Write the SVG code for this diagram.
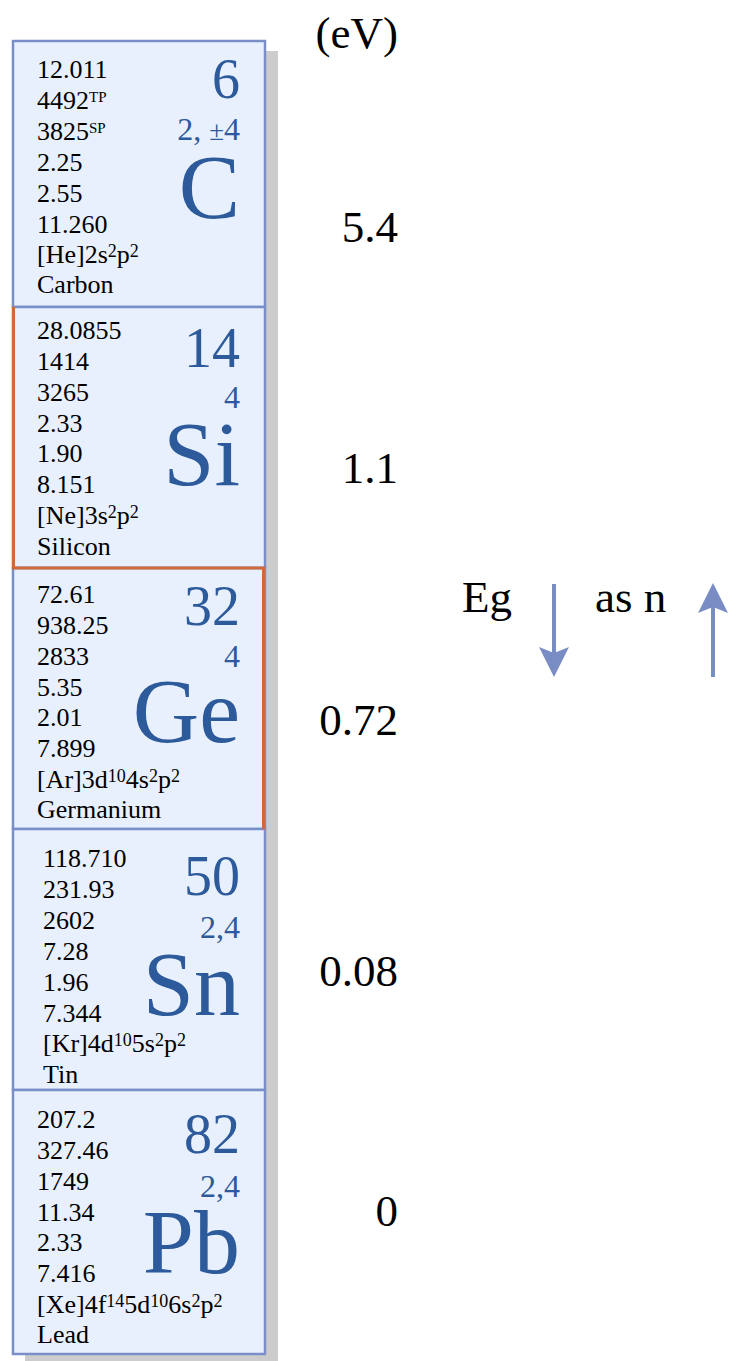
<svg xmlns="http://www.w3.org/2000/svg" width="729" height="1361" viewBox="0 0 729 1361">
<defs>
<style>
.k{font-family:"Liberation Serif","Times New Roman",serif;font-size:26px;fill:#000}
.num{font-family:"Liberation Serif",serif;font-size:56px;fill:#2c5a9a;text-anchor:end}
.val{font-family:"Liberation Serif",serif;font-size:32px;fill:#2c5a9a;text-anchor:end}
.sym{font-family:"Liberation Serif",serif;font-size:92px;fill:#2c5a9a;text-anchor:end}
.r{font-family:"Liberation Serif",serif;font-size:45px;fill:#000}
.cell{fill:#e8f0fd;stroke:#7a8fc8;stroke-width:2.5}
.arr{stroke:#7a8cc4;stroke-width:4;fill:none}
.s{font-size:18px}
</style>
<marker id="ah" viewBox="0 0 10 10" refX="2" refY="5" markerWidth="7.5" markerHeight="7.5" markerUnits="strokeWidth" orient="auto">
<path d="M0,0 L10,5 L0,10 L2,5 Z" fill="#7a8cc4"/>
</marker>
</defs>
<rect x="25" y="51" width="253" height="1320" fill="#cccccc"/>
<g id="C">
<rect class="cell" x="13" y="41" width="252" height="266"/>
<text class="k" x="37" y="78">12.011</text>
<text class="k" x="37" y="109">4492<tspan font-size="15" dy="-7">TP</tspan></text>
<text class="k" x="37" y="140">3825<tspan font-size="15" dy="-7">SP</tspan></text>
<text class="k" x="37" y="171">2.25</text>
<text class="k" x="37" y="202">2.55</text>
<text class="k" x="37" y="233">11.260</text>
<text class="k" x="37" y="263">[He]2s<tspan class="s" dy="-6">2</tspan><tspan dy="6">p</tspan><tspan class="s" dy="-6">2</tspan></text>
<text class="k" x="37" y="293">Carbon</text>
<text class="num" x="240" y="98">6</text>
<text class="val" x="240" y="140">2, <tspan font-size="27">±</tspan>4</text>
<text class="sym" x="240" y="218">C</text>
</g>
<g id="Si">
<rect class="cell" x="13" y="307" width="252" height="261"/>
<text class="k" x="37" y="339">28.0855</text>
<text class="k" x="37" y="370">1414</text>
<text class="k" x="37" y="401">3265</text>
<text class="k" x="37" y="432">2.33</text>
<text class="k" x="37" y="462">1.90</text>
<text class="k" x="37" y="493">8.151</text>
<text class="k" x="37" y="524">[Ne]3s<tspan class="s" dy="-6">2</tspan><tspan dy="6">p</tspan><tspan class="s" dy="-6">2</tspan></text>
<text class="k" x="37" y="555">Silicon</text>
<text class="num" x="240" y="367">14</text>
<text class="val" x="240" y="408">4</text>
<text class="sym" x="240" y="485">Si</text>
</g>
<g id="Ge">
<rect class="cell" x="13" y="568" width="252" height="261"/>
<text class="k" x="37" y="603">72.61</text>
<text class="k" x="37" y="634">938.25</text>
<text class="k" x="37" y="665">2833</text>
<text class="k" x="37" y="696">5.35</text>
<text class="k" x="37" y="726">2.01</text>
<text class="k" x="37" y="757">7.899</text>
<text class="k" x="37" y="788">[Ar]3d<tspan class="s" dy="-6">10</tspan><tspan dy="6">4s</tspan><tspan class="s" dy="-6">2</tspan><tspan dy="6">p</tspan><tspan class="s" dy="-6">2</tspan></text>
<text class="k" x="37" y="818">Germanium</text>
<text class="num" x="240" y="625">32</text>
<text class="val" x="240" y="667">4</text>
<text class="sym" x="240" y="742">Ge</text>
</g>
<g id="Sn">
<rect class="cell" x="13" y="829" width="252" height="261"/>
<text class="k" x="43" y="867">118.710</text>
<text class="k" x="43" y="898">231.93</text>
<text class="k" x="43" y="929">2602</text>
<text class="k" x="43" y="960">7.28</text>
<text class="k" x="43" y="991">1.96</text>
<text class="k" x="43" y="1022">7.344</text>
<text class="k" x="43" y="1052">[Kr]4d<tspan class="s" dy="-6">10</tspan><tspan dy="6">5s</tspan><tspan class="s" dy="-6">2</tspan><tspan dy="6">p</tspan><tspan class="s" dy="-6">2</tspan></text>
<text class="k" x="43" y="1083">Tin</text>
<text class="num" x="240" y="895">50</text>
<text class="val" x="240" y="938">2,4</text>
<text class="sym" x="240" y="1015">Sn</text>
</g>
<g id="Pb">
<rect class="cell" x="13" y="1090" width="252" height="264"/>
<text class="k" x="37" y="1128">207.2</text>
<text class="k" x="37" y="1159">327.46</text>
<text class="k" x="37" y="1190">1749</text>
<text class="k" x="37" y="1221">11.34</text>
<text class="k" x="37" y="1251">2.33</text>
<text class="k" x="37" y="1282">7.416</text>
<text class="k" x="37" y="1313">[Xe]4f<tspan class="s" dy="-6">14</tspan><tspan dy="6">5d</tspan><tspan class="s" dy="-6">10</tspan><tspan dy="6">6s</tspan><tspan class="s" dy="-6">2</tspan><tspan dy="6">p</tspan><tspan class="s" dy="-6">2</tspan></text>
<text class="k" x="37" y="1343">Lead</text>
<text class="num" x="240" y="1153">82</text>
<text class="val" x="240" y="1197">2,4</text>
<text class="sym" x="240" y="1273">Pb</text>
</g>
<g id="highlight">
<path d="M13.5,307 V568 H263.5 V829" fill="none" stroke="#d0693a" stroke-width="3"/>
</g>
<g id="scale">
<text class="r" x="398" y="48" text-anchor="end">(eV)</text>
<text class="r" x="398" y="242" text-anchor="end">5.4</text>
<text class="r" x="398" y="483" text-anchor="end">1.1</text>
<text class="r" x="398" y="735" text-anchor="end">0.72</text>
<text class="r" x="398" y="986" text-anchor="end">0.08</text>
<text class="r" x="398" y="1226" text-anchor="end">0</text>
<text class="r" x="462" y="612">Eg</text>
<text class="r" x="595" y="612">as n</text>
</g>
<g id="connectors">
<line class="arr" x1="554" y1="584" x2="554" y2="653" marker-end="url(#ah)"/>
<line class="arr" x1="713" y1="677" x2="713" y2="607" marker-end="url(#ah)"/>
</g>
</svg>
